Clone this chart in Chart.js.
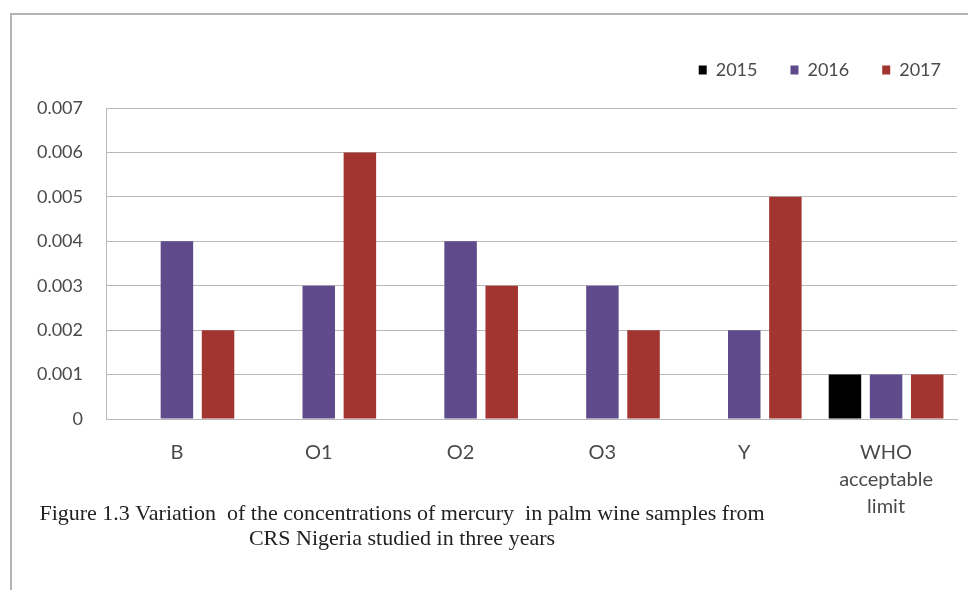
<!DOCTYPE html>
<html>
<head>
<meta charset="utf-8">
<script src="https://cdn.jsdelivr.net/npm/chart.js@4"></script>
<style>
  body { margin: 0; background: #fff; }
</style>
</head>
<body>
<canvas id="hgChart" width="968" height="590"></canvas>
<script>
// Dữ liệu biểu đồ
const categories = ["B", "O1", "O2", "O3", "Y", ["WHO", "acceptable", "limit"]];
const years = ["2015", "2016", "2017"];
const values2015 = [0, 0, 0, 0, 0, 0.001];
const values2016 = [0.004, 0.003, 0.004, 0.003, 0.002, 0.001];
const values2017 = [0.002, 0.006, 0.003, 0.002, 0.005, 0.001];
const yTicks = [0, 0.001, 0.002, 0.003, 0.004, 0.005, 0.006, 0.007];

const colors = ["#000000", "#5f4a8b", "#a2352f"];
const captionLines = [
  "Figure 1.3 Variation  of the concentrations of mercury  in palm wine samples from",
  "CRS Nigeria studied in three years",
];
const textColor = "#4a4a4a";
const gridColor = "#b8b8b8";

// khung viền + chú thích hình
const framePlugin = {
  id: "frame",
  beforeDraw(chart) {
    const ctx = chart.ctx;
    ctx.save();
    ctx.fillStyle = "#fff";
    ctx.fillRect(0, 0, chart.width, chart.height);
    ctx.strokeStyle = "#b4b4b4";
    ctx.lineWidth = 2;
    ctx.beginPath();
    ctx.moveTo(11, chart.height);
    ctx.lineTo(11, 14);
    ctx.lineTo(chart.width, 14);
    ctx.stroke();
    ctx.restore();
  },
  afterDraw(chart) {
    const ctx = chart.ctx;
    ctx.save();
    ctx.fillStyle = "#222";
    ctx.font = "22px 'Liberation Serif'";
    ctx.textAlign = "center";
    ctx.textBaseline = "middle";
    ctx.fillText(captionLines[0], 402, 514);
    ctx.fillText(captionLines[1], 402, 539);
    ctx.restore();
  },
};

// chỉnh chiều cao và vị trí legend
const legendTweak = {
  id: "legendTweak",
  beforeInit(chart) {
    const fit = chart.legend.fit;
    chart.legend.fit = function () {
      fit.bind(chart.legend)();
      this.height = 80;
    };
  },
  afterLayout(chart) {
    chart.legend.right += 17;
  },
};

const datasets = [values2015, values2016, values2017].map((vals, i) => ({
  label: years[i],
  data: vals,
  backgroundColor: colors[i],
  borderWidth: 0,
  categoryPercentage: 0.87,
  barPercentage: 0.79,
}));

new Chart(document.getElementById("hgChart").getContext("2d"), {
  type: "bar",
  data: { labels: categories, datasets: datasets },
  options: {
    responsive: false,
    animation: false,
    layout: { padding: { top: 28, right: 11, bottom: 50, left: 0 } },
    plugins: {
      legend: {
        position: "top",
        align: "end",
        labels: {
          boxWidth: 8,
          boxHeight: 9,
          padding: 33,
          color: textColor,
          font: { family: "Lato", size: 18 },
        },
      },
      tooltip: { enabled: false },
    },
    scales: {
      x: {
        grid: { display: false, drawTicks: false },
        border: { color: gridColor },
        ticks: {
          padding: 20,
          color: textColor,
          maxRotation: 0,
          font: { family: "Lato", size: 20, lineHeight: 1.35 },
        },
      },
      y: {
        min: 0,
        max: 0.007,
        afterFit(scale) {
          scale.width = 106;
        },
        afterBuildTicks(scale) {
          scale.ticks = yTicks.map((v) => ({ value: v }));
        },
        grid: { color: gridColor, drawTicks: false },
        border: { color: gridColor },
        ticks: {
          padding: 23,
          color: textColor,
          font: { family: "Lato", size: 18 },
          callback: (v) => (v === 0 ? "0" : Number(v).toFixed(3)),
        },
      },
    },
  },
  plugins: [framePlugin, legendTweak],
});
</script>
</body>
</html>
